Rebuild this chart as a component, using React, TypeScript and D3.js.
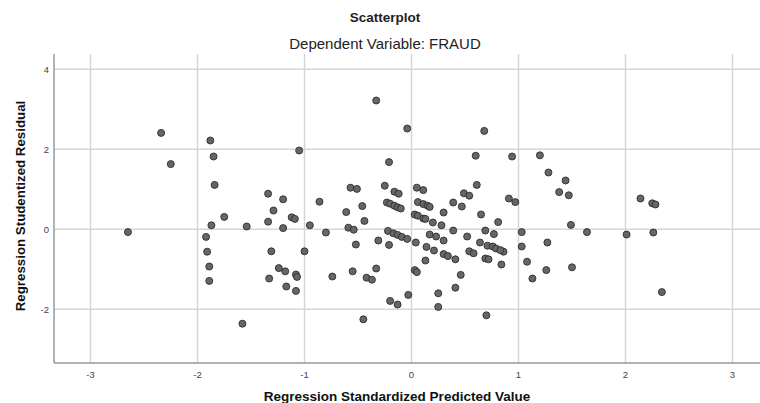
import React from "react";
import * as d3 from "d3";

// predicted (x) and studentized residual (y) pairs
const predicted = [
  -2.34, -2.25, -2.65, -1.88, -1.85, -1.84, -1.75, -1.87, -1.54, -1.92, -1.91, -1.89, -1.89, -1.58,
  -1.34, -1.29, -1.2, -1.34, -1.2, -1.12, -1.09, -1.05, -0.95, -0.86, -0.8, -0.61, -0.57, -0.51,
  -0.46, -0.44, -0.59, -0.54, -0.33, -0.04, -0.21, -0.25, -0.16, -0.12, -0.23, -0.2, -0.16, -0.13,
  -0.1, -0.22, 0.05, 0.11, 0.06, 0.11, 0.15, 0.17, 0.03, 0.06, 0.11, 0.13, 0.2, 0.28, 0.3, 0.39,
  0.47, 0.49, 0.54, 0.61, 0.6, 0.68, 0.65, 0.81, 0.94, 0.91, 0.97, 0.69, 0.39, 1.2, 1.28, 1.44,
  1.38, 1.47, 1.49, 1.03, 1.64, 2.14, 2.25, 2.28, 2.26, 2.01, 1.03, 1.27, 0.86, 0.84, 1.08, 1.13,
  1.26, 1.5, 2.34, -1.31, -1.0, -1.24, -1.18, -1.33, -1.08, -1.07, -1.17, -1.08, -0.74, -0.52,
  -0.55, -0.42, -0.37, -0.33, -0.31, -0.45, -0.17, -0.13, -0.21, -0.09, -0.04, 0.04, -0.2, -0.13,
  -0.03, 0.03, 0.05, 0.13, 0.14, 0.17, 0.23, 0.3, 0.21, 0.3, 0.34, 0.41, 0.52, 0.54, 0.58, 0.64,
  0.77, 0.71, 0.76, 0.79, 0.83, 0.69, 0.72, 0.46, 0.41, 0.25, 0.25, 0.7,
];
const residual = [
  2.41, 1.63, -0.07, 2.22, 1.82, 1.11, 0.31, 0.1, 0.07, -0.19, -0.56, -0.93, -1.29, -2.36,
  0.89, 0.47, 0.75, 0.19, 0.03, 0.3, 0.26, 1.97, 0.1, 0.69, -0.08, 0.43, 1.04, 1.01,
  0.58, 0.21, 0.04, -0.01, 3.22, 2.52, 1.68, 1.09, 0.94, 0.89, 0.67, 0.64, 0.59, 0.55,
  0.52, -0.04, 1.04, 0.98, 0.68, 0.63, 0.59, 0.56, 0.37, 0.34, 0.27, 0.26, 0.17, 0.1, 0.42, 0.67,
  0.57, 0.9, 0.84, 1.11, 1.84, 2.46, 0.37, 0.18, 1.82, 0.77, 0.68, -0.03, -0.03, 1.85, 1.42, 1.22,
  0.93, 0.85, 0.11, -0.07, -0.07, 0.77, 0.65, 0.62, -0.08, -0.13, -0.43, -0.33, -0.56, -0.88, -0.81, -1.23,
  -1.02, -0.95, -1.57, -0.55, -0.55, -0.97, -1.05, -1.23, -1.13, -1.19, -1.43, -1.54, -1.18, -0.38,
  -1.05, -1.21, -1.26, -0.98, -0.28, -2.25, -0.1, -0.14, -0.39, -0.19, -0.24, -0.33, -1.79, -1.88,
  -1.64, -1.02, -1.07, -0.78, -0.44, -0.13, -0.18, -0.28, -0.53, -0.62, -0.67, -0.75, -0.18, -0.55, -0.6, -0.33,
  -0.12, -0.41, -0.43, -0.48, -0.52, -0.73, -0.75, -1.14, -1.46, -1.6, -1.94, -2.15,
];
const xTicks = [-3, -2, -1, 0, 1, 2, 3];
const yTicks = [-2, 0, 2, 4];

const W = 760;
const H = 403;
const left = 54;
const right = 760;
const top = 54;
const bottom = 363;

export default function App() {
  const x = d3.scaleLinear().domain([-3, 3]).range([90.5, 732.5]);
  const y = d3.scaleLinear().domain([-2, 4]).range([309.3, 69.3]);
  const font = "'Liberation Sans', Arial, sans-serif";

  return (
    <svg width={W} height={H} style={{ position: "absolute", left: 0, top: 0, background: "#fff" }}>
      <text x={385} y={22} textAnchor="middle" fontFamily={font} fontSize={13.5} fontWeight="bold" fill="#222">
        Scatterplot
      </text>
      <text x={385} y={49} textAnchor="middle" fontFamily={font} fontSize={15} fill="#222">
        Dependent Variable: FRAUD
      </text>

      {xTicks.map((t) => (
        <line key={"gx" + t} x1={x(t)} x2={x(t)} y1={top} y2={bottom} stroke="#d6d6d6" strokeWidth={1.5} />
      ))}
      {yTicks.map((t) => (
        <line key={"gy" + t} x1={left} x2={right} y1={y(t)} y2={y(t)} stroke="#d6d6d6" strokeWidth={1.5} />
      ))}

      <line x1={left} x2={left} y1={top} y2={bottom} stroke="#999" strokeWidth={1.5} />
      <line x1={left} x2={right} y1={bottom} y2={bottom} stroke="#999" strokeWidth={1.5} />

      {yTicks.map((t) => (
        <text key={"ty" + t} x={49} y={y(t) + 3.5} textAnchor="end" fontFamily={font} fontSize={9.5} fill="#444">
          {t}
        </text>
      ))}
      {xTicks.map((t) => (
        <text key={"tx" + t} x={x(t)} y={378} textAnchor="middle" fontFamily={font} fontSize={9.5} fill="#444">
          {t}
        </text>
      ))}

      {predicted.map((p, i) => (
        <circle key={i} cx={x(p)} cy={y(residual[i])} r={3.5} fill="#666" stroke="#2e2e2e" strokeWidth={0.9} />
      ))}

      <text x={397} y={401} textAnchor="middle" fontFamily={font} fontSize={13.5} fontWeight="bold" fill="#111">
        Regression Standardized Predicted Value
      </text>
      <text
        transform={`translate(25,${206}) rotate(-90)`}
        textAnchor="middle"
        fontFamily={font}
        fontSize={13.3}
        fontWeight="bold"
        fill="#111"
      >
        Regression Studentized Residual
      </text>
    </svg>
  );
}
